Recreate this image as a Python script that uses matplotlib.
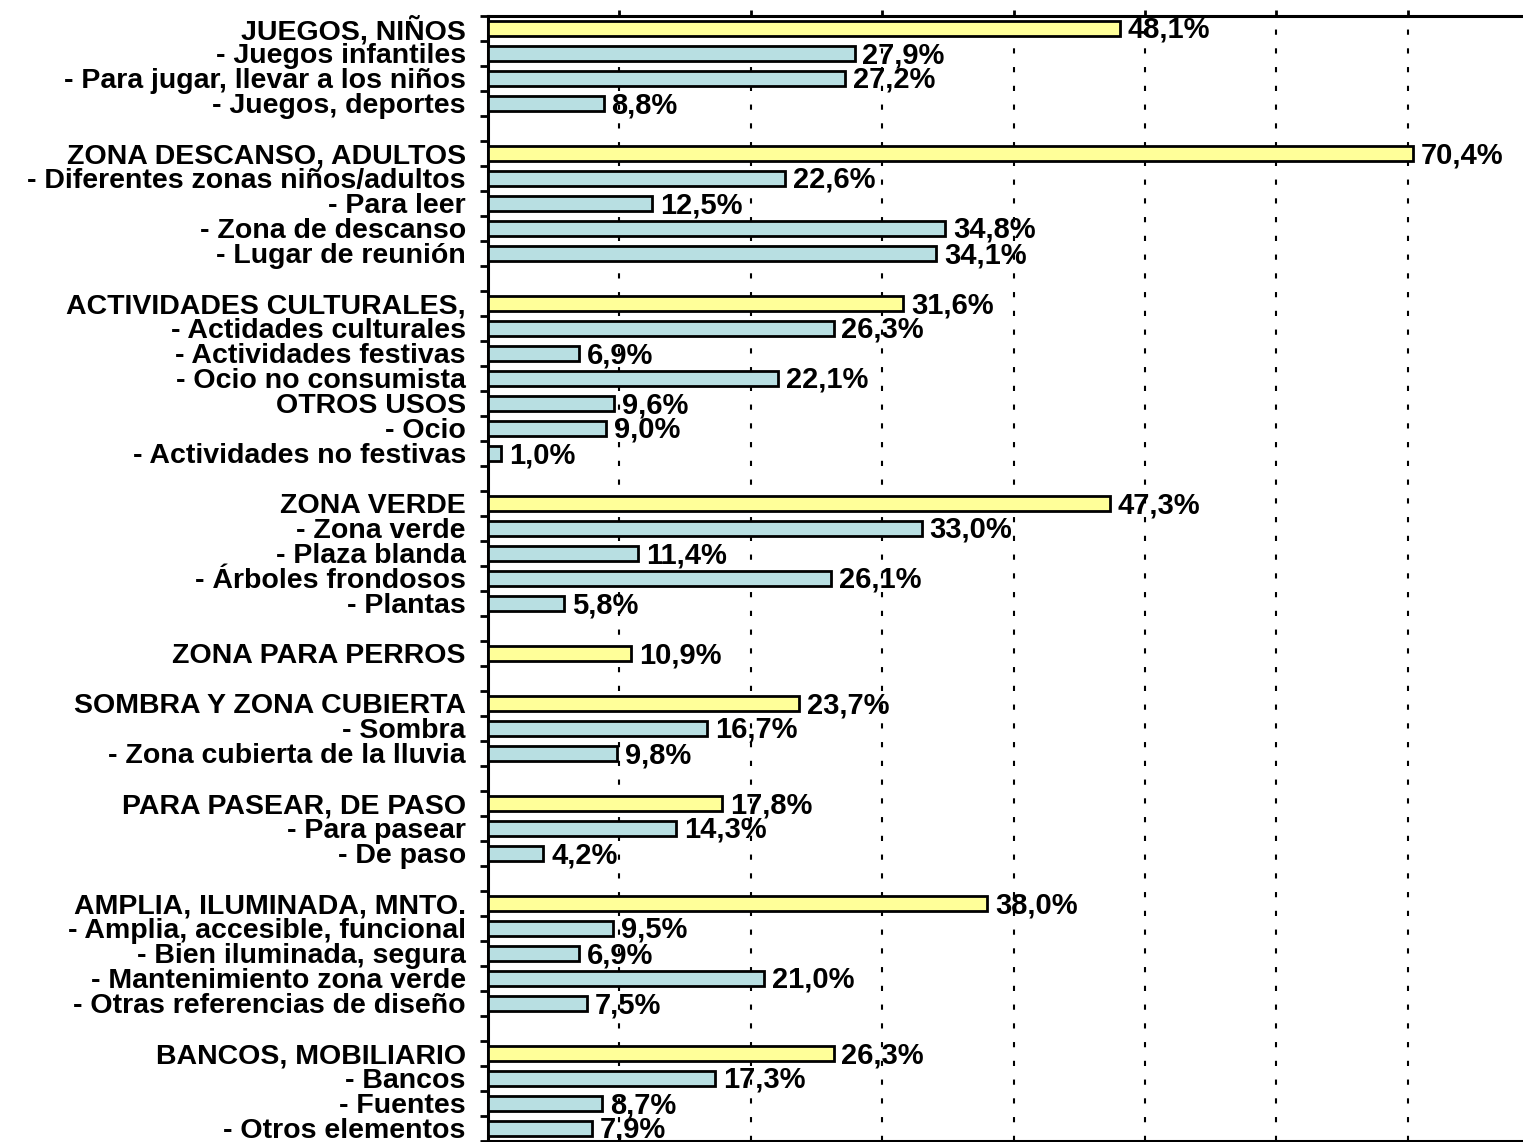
import matplotlib
matplotlib.use("Agg")
import matplotlib.pyplot as plt
from matplotlib import font_manager

labels = [
    "JUEGOS, NIÑOS", "- Juegos infantiles", "- Para jugar, llevar a los niños", "- Juegos, deportes",
    "",
    "ZONA DESCANSO, ADULTOS", "- Diferentes zonas niños/adultos", "- Para leer", "- Zona de descanso", "- Lugar de reunión",
    "",
    "ACTIVIDADES CULTURALES,", "- Actidades culturales", "- Actividades festivas", "- Ocio no consumista",
    "OTROS USOS", "- Ocio", "- Actividades no festivas",
    "",
    "ZONA VERDE", "- Zona verde", "- Plaza blanda", "- Árboles frondosos", "- Plantas",
    "",
    "ZONA PARA PERROS",
    "",
    "SOMBRA Y ZONA CUBIERTA", "- Sombra", "- Zona cubierta de la lluvia",
    "",
    "PARA PASEAR, DE PASO", "- Para pasear", "- De paso",
    "",
    "AMPLIA, ILUMINADA, MNTO.", "- Amplia, accesible, funcional", "- Bien iluminada, segura",
    "- Mantenimiento zona verde", "- Otras referencias de diseño",
    "",
    "BANCOS, MOBILIARIO", "- Bancos", "- Fuentes", "- Otros elementos",
]
values = [
    48.1, 27.9, 27.2, 8.8,
    None,
    70.4, 22.6, 12.5, 34.8, 34.1,
    None,
    31.6, 26.3, 6.9, 22.1,
    9.6, 9.0, 1.0,
    None,
    47.3, 33.0, 11.4, 26.1, 5.8,
    None,
    10.9,
    None,
    23.7, 16.7, 9.8,
    None,
    17.8, 14.3, 4.2,
    None,
    38.0, 9.5, 6.9, 21.0, 7.5,
    None,
    26.3, 17.3, 8.7, 7.9,
]
is_group = [
    True, False, False, False,
    False,
    True, False, False, False, False,
    False,
    True, False, False, False,
    False, False, False,
    False,
    True, False, False, False, False,
    False,
    True,
    False,
    True, False, False,
    False,
    True, False, False,
    False,
    True, False, False, False, False,
    False,
    True, False, False, False,
]

YELLOW = "#FFFF99"
CYAN = "#B8DFE2"

names = {f.name for f in font_manager.fontManager.ttflist}
fam = ["Liberation Sans Narrow", "Liberation Sans", "DejaVu Sans"]
fam = [f for f in fam if f in names] or ["DejaVu Sans"]
plt.rcParams["font.family"] = fam

W, H = 1523, 1142
fig = plt.figure(figsize=(W / 100, H / 100), dpi=100)
x0 = 488
y_top, y_bot = 15.5, 1140.5
ax = fig.add_axes([x0 / W, 1 - y_bot / H, (W - x0) / W, (y_bot - y_top) / H])

n = len(labels)
xmax = (W - x0) / 13.14
ax.set_xlim(0, xmax)
ax.set_ylim(n - 0.5, -0.5)

for i, (v, g) in enumerate(zip(values, is_group)):
    if v is None:
        continue
    ax.barh(i, v, height=0.6, color=YELLOW if g else CYAN, edgecolor="black",
            linewidth=2.0, zorder=3)
    ax.text(v + 0.6, i + 0.08, f"{v:.1f}".replace(".", ",") + "%", ha="left", va="center",
            fontsize=21, fontweight="bold", zorder=4)

ax.set_yticks(range(n))
ax.set_yticklabels(labels, fontsize=20.5, fontweight="bold")
ax.tick_params(axis="y", which="major", length=0, pad=16)
ax.set_yticks([i - 0.5 for i in range(n + 1)], minor=True)
ax.tick_params(axis="y", which="minor", length=6, width=2, direction="out")

ax.set_xticks(range(10, 80, 10))
ax.xaxis.tick_top()
ax.tick_params(axis="x", length=4, width=2, direction="out", labeltop=False, labelbottom=False)
ax.grid(axis="x", color="black", linewidth=1.5, linestyle=(0, (2.5, 6.5)), zorder=1)

for s in ["left", "top", "bottom"]:
    ax.spines[s].set_linewidth(2.2)
ax.spines["right"].set_visible(False)

fig.savefig("out.png", dpi=100)
